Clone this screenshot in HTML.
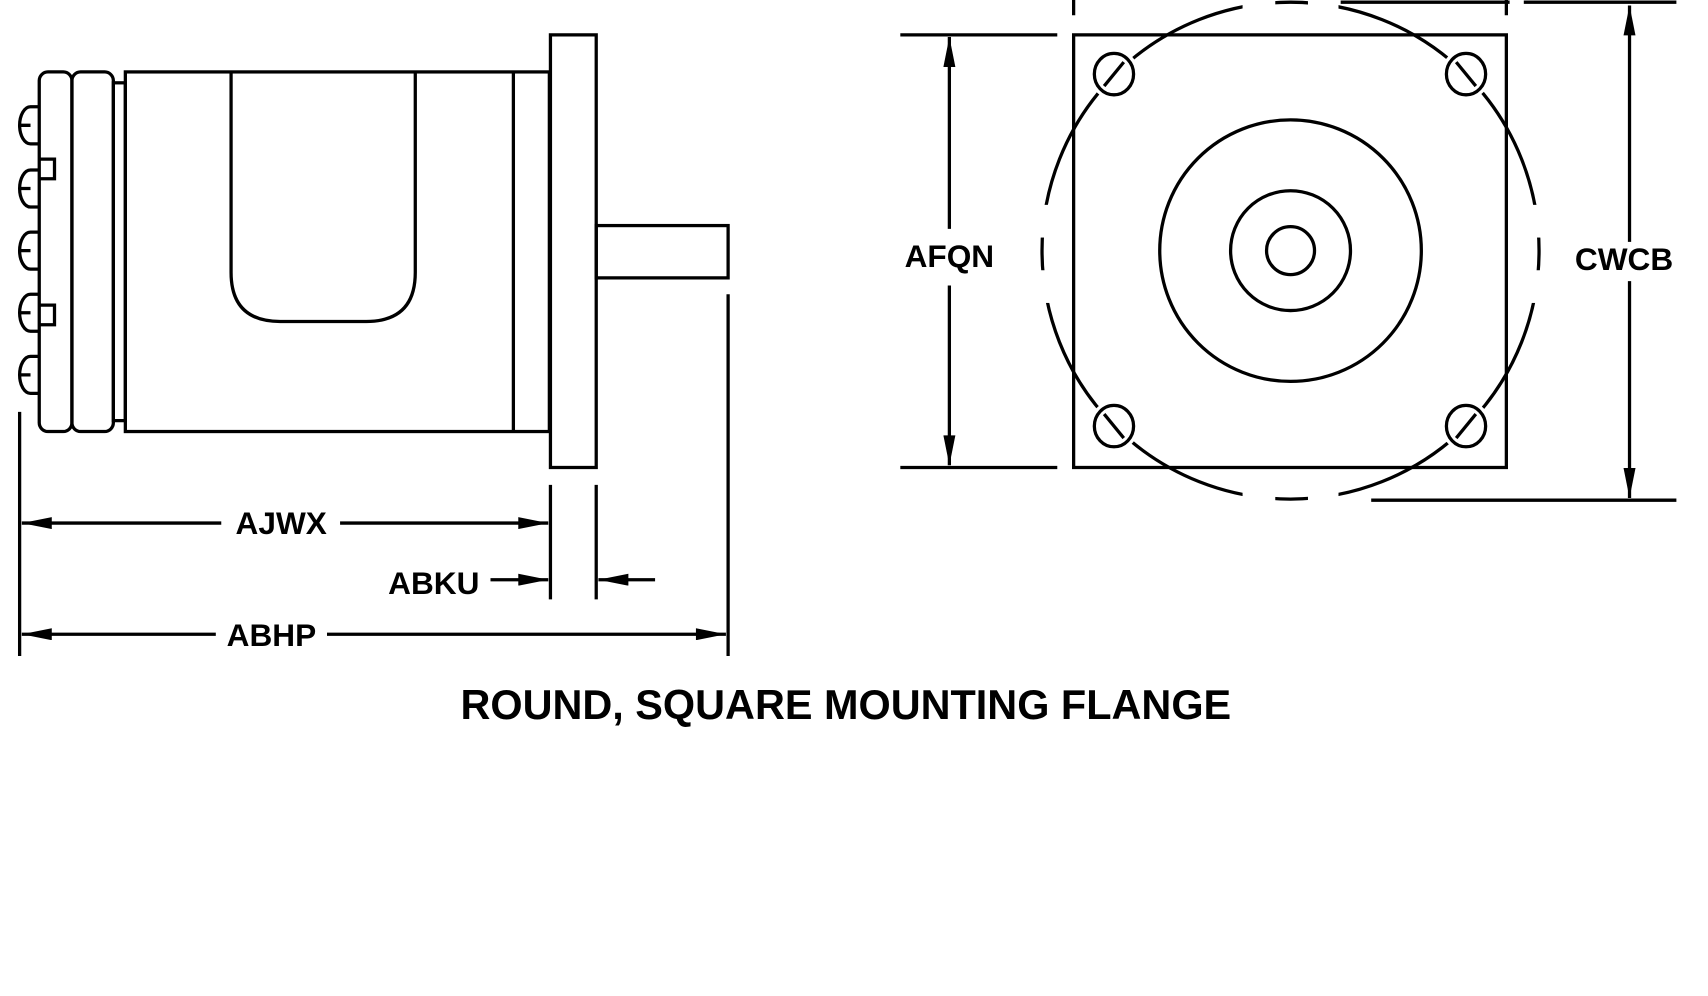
<!DOCTYPE html>
<html><head><meta charset="utf-8"><style>
html,body{margin:0;padding:0;background:#fff;width:1708px;height:996px;overflow:hidden}
svg{display:block}
text{font-family:"Liberation Sans",sans-serif;font-weight:bold;fill:#000}
</style></head><body>
<svg width="1708" height="996" viewBox="0 0 1567 914" preserveAspectRatio="none" xmlns="http://www.w3.org/2000/svg">
<defs><marker id="a" viewBox="0 0 20 8" refX="20" refY="4" markerWidth="28" markerHeight="11" markerUnits="userSpaceOnUse" orient="auto-start-reverse"><path d="M0,0L20,4L0,8z" fill="#000"/></marker></defs>
<g fill="none" stroke="#000" stroke-width="3">
<rect x="36" y="66" width="30" height="330" rx="8"/>
<rect x="66" y="66" width="38" height="330" rx="8"/>
<rect x="104" y="76" width="11" height="310"/>
<rect x="115" y="66" width="389" height="330"/>
<line x1="471" y1="66" x2="471" y2="396"/>
<path d="M212,66 V250 Q212,295 257,295 H336 Q381,295 381,250 V66"/>
<rect x="505" y="32" width="42" height="397"/>
<rect x="547" y="207" width="121" height="48"/>
<g>
<path d="M36,98 H28 A10,17 0 0 0 28,132 H36 M18,115 H28"/>
<path d="M36,156 H28 A10,17 0 0 0 28,190 H36 M18,173 H28"/>
<path d="M36,213 H28 A10,17 0 0 0 28,247 H36 M18,230 H28"/>
<path d="M36,270 H28 A10,17 0 0 0 28,304 H36 M18,287 H28"/>
<path d="M36,327 H28 A10,17 0 0 0 28,361 H36 M18,344 H28"/>
<path d="M36,146 H50 V164 H36"/>
<path d="M36,280 H50 V298 H36"/>
</g>
<line x1="18" y1="378" x2="18" y2="602"/>
<line x1="668" y1="270" x2="668" y2="602"/>
<line x1="505" y1="445" x2="505" y2="550"/>
<line x1="547" y1="445" x2="547" y2="550"/>
<line x1="203" y1="480" x2="20" y2="480" marker-end="url(#a)"/>
<line x1="312" y1="480" x2="503" y2="480" marker-end="url(#a)"/>
<line x1="450" y1="532" x2="503" y2="532" marker-end="url(#a)"/>
<line x1="601" y1="532" x2="549" y2="532" marker-end="url(#a)"/>
<line x1="198" y1="582" x2="20" y2="582" marker-end="url(#a)"/>
<line x1="300" y1="582" x2="666" y2="582" marker-end="url(#a)"/>
<rect x="985" y="32" width="397" height="397"/>
<ellipse cx="1184" cy="230" rx="228" ry="228"/>
</g>
<g fill="#fff">
<rect x="948" y="188" width="16" height="30"/><rect x="948" y="248" width="16" height="30"/>
<rect x="1404" y="188" width="16" height="30"/><rect x="1404" y="248" width="16" height="30"/>
<rect x="1140" y="-6" width="30" height="14"/><rect x="1200" y="-6" width="28" height="14"/>
<rect x="1140" y="452" width="30" height="14"/><rect x="1200" y="452" width="28" height="14"/>
<circle cx="1022" cy="68" r="23"/><circle cx="1345" cy="68" r="23"/>
<circle cx="1022" cy="391" r="23"/><circle cx="1345" cy="391" r="23"/>
</g>
<g fill="none" stroke="#000" stroke-width="3">
<circle cx="1184" cy="230" r="120"/>
<circle cx="1184" cy="230" r="55"/>
<circle cx="1184" cy="230" r="22"/>
<ellipse cx="1022" cy="68" rx="18" ry="19"/><line x1="1013" y1="79" x2="1031" y2="57"/>
<ellipse cx="1345" cy="68" rx="18" ry="19"/><line x1="1336" y1="57" x2="1354" y2="79"/>
<ellipse cx="1022" cy="391" rx="18" ry="19"/><line x1="1013" y1="380" x2="1031" y2="402"/>
<ellipse cx="1345" cy="391" rx="18" ry="19"/><line x1="1336" y1="402" x2="1354" y2="380"/>
<line x1="826" y1="32" x2="970" y2="32"/>
<line x1="826" y1="429" x2="970" y2="429"/>
<line x1="871" y1="210" x2="871" y2="34" marker-end="url(#a)"/>
<line x1="871" y1="262" x2="871" y2="427" marker-end="url(#a)"/>
<line x1="1398" y1="2" x2="1538" y2="2"/>
<line x1="1230" y1="2" x2="1385" y2="2"/>
<line x1="985" y1="0" x2="985" y2="14"/>
<line x1="1382" y1="0" x2="1382" y2="14"/>
<line x1="1258" y1="459" x2="1538" y2="459"/>
<line x1="1495" y1="222" x2="1495" y2="5" marker-end="url(#a)"/>
<line x1="1495" y1="258" x2="1495" y2="457" marker-end="url(#a)"/>
</g>
<text x="258" y="490" font-size="29" text-anchor="middle">AJWX</text>
<text x="398" y="545" font-size="29" text-anchor="middle">ABKU</text>
<text x="249" y="593" font-size="29" text-anchor="middle">ABHP</text>
<text x="871" y="245" font-size="29" text-anchor="middle">AFQN</text>
<text x="1490" y="248" font-size="29" text-anchor="middle">CWCB</text>
<text x="776" y="660" font-size="38" text-anchor="middle">ROUND, SQUARE MOUNTING FLANGE</text>
</svg>
</body></html>
